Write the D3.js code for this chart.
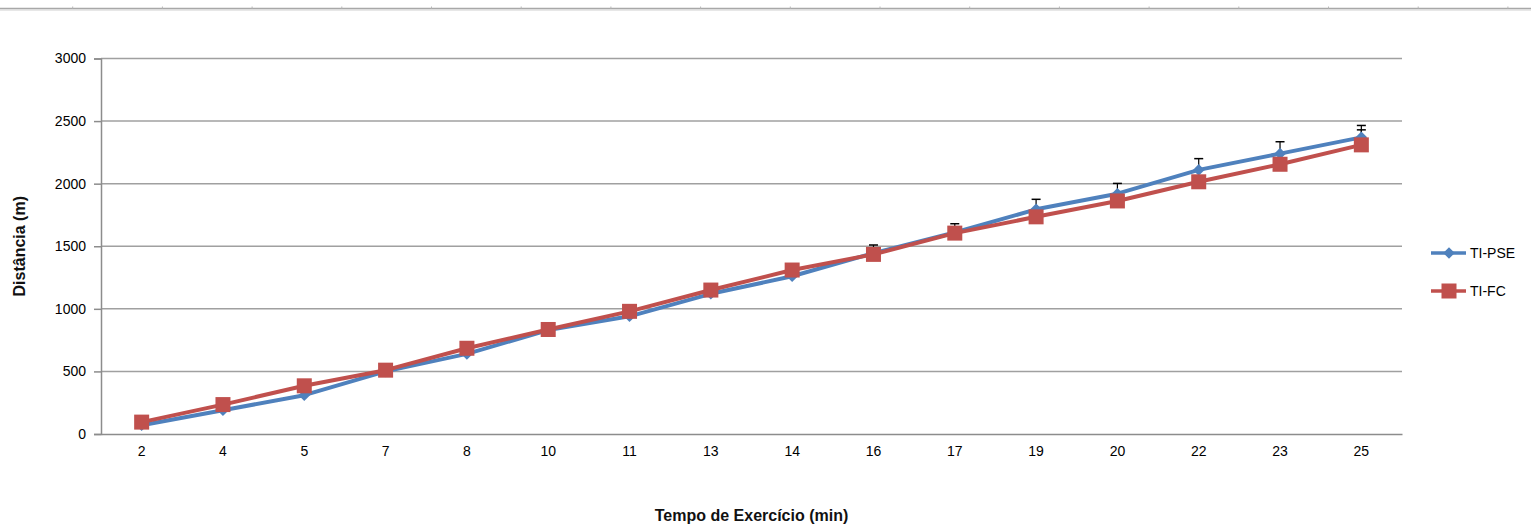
<!DOCTYPE html>
<html>
<head>
<meta charset="utf-8">
<script src="https://cdn.jsdelivr.net/npm/d3@7"></script>
<style>
  html, body { margin: 0; padding: 0; background: #fff; }
  svg { display: block; }
  text { font-family: "Liberation Sans", Arial, sans-serif; }
</style>
</head>
<body>
<svg id="chart" width="1531" height="526"></svg>
<script>
// ---- data ----
const categories = ["2","4","5","7","8","10","11","13","14","16","17","19","20","22","23","25"];
const tiPSE = [70, 190, 310, 500, 640, 830, 940, 1120, 1260, 1445, 1610, 1795, 1920, 2110, 2240, 2370];
const tiFC  = [95, 235, 385, 510, 685, 835, 980, 1150, 1310, 1435, 1605, 1735, 1862, 2015, 2155, 2310];
const errPSE = [0, 0, 0, 0, 0, 0, 0, 0, 0, 65, 70, 80, 82, 90, 95, 95];
const errFC  = [0, 0, 0, 0, 0, 0, 0, 0, 0, 0, 0, 0, 0, 0, 0, 120];
const yTicks = [0, 500, 1000, 1500, 2000, 2500, 3000];
const seriesNames = ["TI-PSE", "TI-FC"];
const colors = ["#4F81BD", "#C0504D"];

// ---- layout ----
const svg = d3.select("#chart");
const L = 101, R = 1402, T = 58.5, B = 434;

// top ruler decoration (window frame)
svg.append("line").attr("x1", 0).attr("x2", 1531).attr("y1", 8.5).attr("y2", 8.5)
  .attr("stroke", "#a8a8a8").attr("stroke-width", 1.5);
svg.append("line").attr("x1", 0).attr("x2", 1531).attr("y1", 10).attr("y2", 10)
  .attr("stroke", "#d0d0d0").attr("stroke-width", 1);
svg.selectAll("line.rtick").data(d3.range(72.7, 1531, 89.7)).enter().append("line")
  .attr("class", "rtick").attr("x1", d => d).attr("x2", d => d)
  .attr("y1", 6.5).attr("y2", 8.5).attr("stroke", "#b8b8b8").attr("stroke-width", 1);

const x = d3.scaleBand().domain(categories).range([L, R]);
const y = d3.scaleLinear().domain([0, 3000]).range([B, T]);
const cx = c => x(c) + x.bandwidth() / 2;

// gridlines
svg.append("g").selectAll("line").data(yTicks.filter(d => d > 0)).enter().append("line")
  .attr("x1", L).attr("x2", R).attr("y1", d => y(d)).attr("y2", d => y(d))
  .attr("stroke", "#a0a0a0").attr("stroke-width", 1.5);

// y axis
const yAxis = d3.axisLeft(y).tickValues(yTicks).tickSize(7).tickPadding(8).tickFormat(d3.format("d"));
const gy = svg.append("g").attr("transform", `translate(${L},0)`).call(yAxis);
gy.select(".domain").attr("stroke", "#8c8c8c").attr("stroke-width", 1.5);
gy.selectAll(".tick line").attr("stroke", "#8c8c8c").attr("stroke-width", 1.5);
gy.selectAll(".tick text").attr("font-size", 14).attr("fill", "#000")
  .attr("font-family", "'Liberation Sans', Arial, sans-serif");

// x axis
const xAxis = d3.axisBottom(x).tickSize(0).tickPadding(12);
const gx = svg.append("g").attr("transform", `translate(0,${B})`).call(xAxis);
gx.select(".domain").attr("stroke", "#8c8c8c").attr("stroke-width", 1.5);
gx.selectAll(".tick text").attr("font-size", 14).attr("fill", "#000")
  .attr("font-family", "'Liberation Sans', Arial, sans-serif");

// error bars (plus direction)
function errBars(vals, errs) {
  const g = svg.append("g");
  categories.forEach((c, i) => {
    if (errs[i] <= 0) return;
    const xx = cx(c), y0 = y(vals[i]), y1 = y(vals[i] + errs[i]);
    g.append("line").attr("x1", xx).attr("x2", xx).attr("y1", y0).attr("y2", y1)
      .attr("stroke", "#000").attr("stroke-width", 1.2);
    g.append("line").attr("x1", xx - 4.5).attr("x2", xx + 4.5).attr("y1", y1).attr("y2", y1)
      .attr("stroke", "#000").attr("stroke-width", 1.5);
  });
}
errBars(tiPSE, errPSE);
errBars(tiFC, errFC);

const line = d3.line().x((d, i) => cx(categories[i])).y(d => y(d));

svg.append("path").datum(tiPSE).attr("d", line).attr("fill", "none")
  .attr("stroke", colors[0]).attr("stroke-width", 4).attr("stroke-linejoin", "round");
svg.append("g").selectAll("path").data(tiPSE).enter().append("path")
  .attr("d", d3.symbol(d3.symbolDiamond2, 85)())
  .attr("transform", (d, i) => `translate(${cx(categories[i])},${y(d)})`)
  .attr("fill", colors[0]);

svg.append("path").datum(tiFC).attr("d", line).attr("fill", "none")
  .attr("stroke", colors[1]).attr("stroke-width", 4).attr("stroke-linejoin", "round");
svg.append("g").selectAll("rect").data(tiFC).enter().append("rect")
  .attr("x", (d, i) => cx(categories[i]) - 7.5).attr("y", d => y(d) - 7.5)
  .attr("width", 15).attr("height", 15).attr("fill", colors[1]);

// axis titles
svg.append("text").attr("x", (L + R) / 2).attr("y", 521).attr("text-anchor", "middle")
  .attr("font-size", 16).attr("font-weight", "bold").attr("fill", "#111")
  .text("Tempo de Exercício (min)");
svg.append("text").attr("transform", `translate(25,${(T + B) / 2}) rotate(-90)`)
  .attr("text-anchor", "middle").attr("font-size", 16).attr("font-weight", "bold").attr("fill", "#111")
  .text("Distância (m)");

// legend
const lg = svg.append("g");
seriesNames.forEach((name, i) => {
  const ly = 253 + i * 38;
  lg.append("line").attr("x1", 1431).attr("x2", 1466).attr("y1", ly).attr("y2", ly)
    .attr("stroke", colors[i]).attr("stroke-width", 3.5);
  if (i === 0) {
    lg.append("path").attr("d", d3.symbol(d3.symbolDiamond2, 85)())
      .attr("transform", `translate(1449,${ly})`).attr("fill", colors[i]);
  } else {
    lg.append("rect").attr("x", 1441.5).attr("y", ly - 7.5).attr("width", 15).attr("height", 15)
      .attr("fill", colors[i]);
  }
  lg.append("text").attr("x", 1470).attr("y", ly + 5).attr("font-size", 14).attr("fill", "#000")
    .text(name);
});
</script>
</body>
</html>
